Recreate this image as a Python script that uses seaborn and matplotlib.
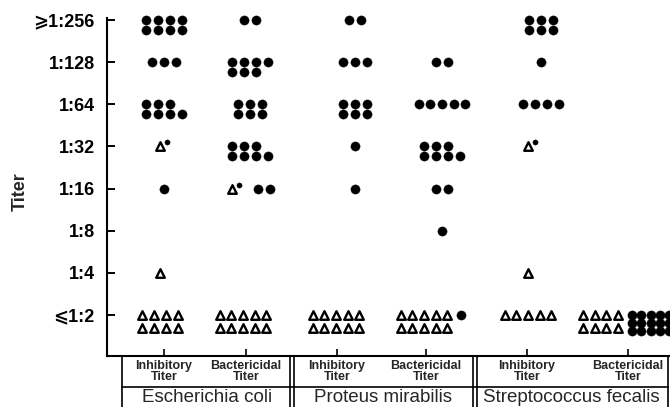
import matplotlib
matplotlib.use("Agg")
import matplotlib.pyplot as plt
import matplotlib.transforms as mtransforms
import pandas as pd
import seaborn as sns

# ---- data -----------------------------------------------------------------
titer_labels = ["⩽1:2", "1:4", "1:8", "1:16", "1:32", "1:64", "1:128", "⩾1:256"]
titer_levels = [1, 2, 3, 4, 5, 6, 7, 8]
organisms = ["Escherichia coli", "Proteus mirabilis", "Streptococcus fecalis"]
assays = ["Inhibitory\nTiter", "Bactericidal\nTiter"]

# number of sera per titer level; each list holds the rows a group is stacked in
# dots = titer with drug, triangles = titer without drug, both = coinciding pair
ecoli_inhib_dots = {8: [4, 4], 7: [3], 6: [3, 4], 4: [1]}
ecoli_inhib_tris = {2: [1], 1: [4, 4]}
ecoli_inhib_both = {5: 1}

ecoli_bact_dots = {8: [2], 7: [4, 3], 6: [3, 3], 5: [3, 4], 4: [2]}
ecoli_bact_tris = {1: [5, 5]}
ecoli_bact_both = {4: 1}

proteus_inhib_dots = {8: [2], 7: [3], 6: [3, 3], 5: [1], 4: [1]}
proteus_inhib_tris = {1: [5, 5]}
proteus_inhib_both = {}

proteus_bact_dots = {7: [2], 6: [5], 5: [3, 4], 4: [2], 3: [1], 1: [1]}
proteus_bact_tris = {1: [5, 5]}
proteus_bact_both = {}

strep_inhib_dots = {8: [3, 3], 7: [1], 6: [4]}
strep_inhib_tris = {2: [1], 1: [5]}
strep_inhib_both = {5: 1}

strep_bact_dots = {1: [5, 5, 5]}
strep_bact_tris = {1: [4, 4]}
strep_bact_both = {}

columns = [
    (ecoli_inhib_dots, ecoli_inhib_tris, ecoli_inhib_both),
    (ecoli_bact_dots, ecoli_bact_tris, ecoli_bact_both),
    (proteus_inhib_dots, proteus_inhib_tris, proteus_inhib_both),
    (proteus_bact_dots, proteus_bact_tris, proteus_bact_both),
    (strep_inhib_dots, strep_inhib_tris, strep_inhib_both),
    (strep_bact_dots, strep_bact_tris, strep_bact_both),
]

# ---- layout ---------------------------------------------------------------
W, H = 670, 407
col_tick_x = [164, 246, 337, 426, 527, 628]
col_dot_x = [164, 250, 355, 442, 541, 628]
col_tri_x = [160, 243, 336, 423, 528, 602]
col_mix_x = [164, 251, 337, 431, 527, 626]
SP = 11.7             # spacing of marks in a row (x units)
PX_PER_LEVEL = 42.14  # vertical distance between titer levels


def cell_marks(col, level, dots, tris, both):
    blocks = []
    if both:
        blocks.append(("both", [both]))
    if tris:
        blocks.append(("tri", tris))
    if dots:
        blocks.append(("dot", dots))
    spacings = [9.3 if len(rows) >= 3 else SP for _, rows in blocks]
    widths = [(max(rows) - 1) * sp for (_, rows), sp in zip(blocks, spacings)]
    if len(blocks) == 1:
        kind = blocks[0][0]
        center = col_dot_x[col] if kind == "dot" else col_tri_x[col]
        starts = [center - widths[0] / 2]
    else:
        gaps = [SP * (2.2 if k == "both" else 1.2) for k, _ in blocks[:-1]]
        total = sum(widths) + sum(gaps)
        x = col_mix_x[col] - total / 2
        starts = []
        for i, w in enumerate(widths):
            starts.append(x)
            x += w + (gaps[i] if i < len(gaps) else 0)
    marks = []
    for (kind, rows), x0, sp in zip(blocks, starts, spacings):
        if kind == "dot":
            step = (10 if len(rows) <= 2 else 8) / PX_PER_LEVEL
        else:
            step = 13 / PX_PER_LEVEL
        for r, n in enumerate(rows):
            for i in range(n):
                marks.append({"x": x0 + i * sp, "y": level - r * step, "kind": kind})
    return marks


records = []
for col, (dots, tris, both) in enumerate(columns):
    for level in titer_levels:
        d, t, b = dots.get(level), tris.get(level), both.get(level, 0)
        if d or t or b:
            records.extend(cell_marks(col, level, d, t, b))
marks = pd.DataFrame(records)

# ---- drawing --------------------------------------------------------------
sns.set_theme(style="ticks")
plt.rcParams["font.family"] = ["Liberation Sans", "DejaVu Sans"]

fig = plt.figure(figsize=(W / 100, H / 100), dpi=100)
ax = fig.add_axes([107 / W, 1 - 356 / H, (W - 107) / W, (356 - 18) / H])

tri_like = marks[marks["kind"].isin(["tri", "both"])]
sns.scatterplot(data=tri_like, x="x", y="y", marker="^", s=38, color="white",
                edgecolor="black", linewidth=1.7, ax=ax, zorder=3, clip_on=False)
sns.scatterplot(data=marks[marks["kind"] == "dot"], x="x", y="y", marker="o",
                s=44, color="black", edgecolor="black", linewidth=0.3, ax=ax,
                zorder=3, clip_on=False)
pair_dots = marks[marks["kind"] == "both"].assign(
    x=lambda d: d["x"] + 7, y=lambda d: d["y"] + 4 / PX_PER_LEVEL)
sns.scatterplot(data=pair_dots, x="x", y="y", marker="o", s=14, color="black",
                edgecolor="black", linewidth=0.3, ax=ax, zorder=3, clip_on=False)

ax.set_xlim(107, W)
ax.set_ylim(1 - 41 / PX_PER_LEVEL, 8 + 2 / PX_PER_LEVEL)
ax.set_xlabel("")
ax.set_ylabel("")

for side in ("top", "right"):
    ax.spines[side].set_visible(False)
for side in ("left", "bottom"):
    ax.spines[side].set_linewidth(1.5)
    ax.spines[side].set_color("black")

ax.set_yticks(titer_levels)
ax.set_yticklabels(titer_labels, fontsize=13, fontweight="bold")
ax.tick_params(axis="y", direction="in", length=6, width=1.4, pad=9, colors="black")
ax.set_xticks(col_tick_x)
ax.set_xticklabels([""] * len(col_tick_x))
ax.tick_params(axis="x", direction="in", length=5, width=1.2, colors="black")

fig.text(20 / W, 1 - 192 / H, "Titer", rotation=90, ha="center", va="center",
         fontsize=13, fontweight="bold")

# category boxes under the axis
fx = lambda px: px / W
fy = lambda py: 1 - py / H
line_kw = dict(color="black", lw=1.2, transform=fig.transFigure, clip_on=False)
fig.add_artist(plt.Line2D([fx(122), fx(668)], [fy(387), fy(387)], **line_kw))
for xv in (122, 290, 294, 473, 477, 668):
    fig.add_artist(plt.Line2D([fx(xv), fx(xv)], [fy(356), fy(H + 2)], **line_kw))

blend = mtransforms.blended_transform_factory(ax.transData, fig.transFigure)
for i, xt in enumerate(col_tick_x):
    ax.text(xt, fy(371.5), assays[i % 2], transform=blend, ha="center",
            va="center", fontsize=9, fontweight="bold", linespacing=0.95,
            clip_on=False)

for name, xc in zip(organisms, [207, 383, 571]):
    fig.text(fx(xc), fy(402), name, ha="center", va="baseline", fontsize=13.5)

fig.savefig("out.png", dpi=100, facecolor="white")
